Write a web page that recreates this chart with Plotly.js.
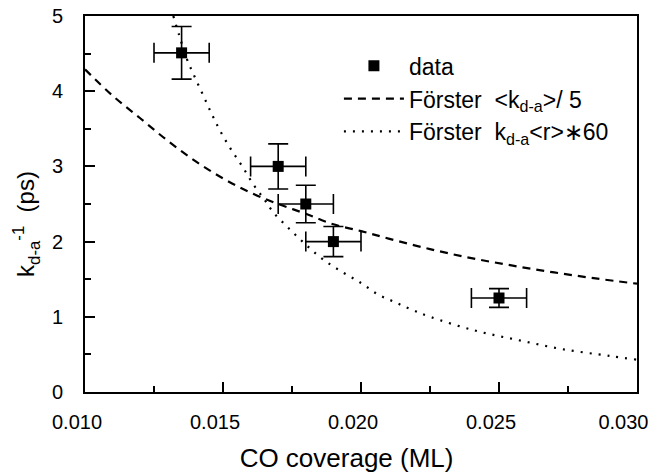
<!DOCTYPE html>
<html>
<head>
<meta charset="utf-8">
<script src="https://cdn.plot.ly/plotly-3.0.1.min.js"></script>
<style>html,body{margin:0;padding:0;background:#fff;}#chart{width:652px;height:474px;}</style>
</head>
<body>
<div id="chart"></div>
<script>
// Measured data points
const dataX = [0.0135, 0.0170, 0.0180, 0.0190, 0.0250];
const dataY = [4.51, 3.00, 2.50, 2.00, 1.25];
const dataXErr = [0.0010, 0.0010, 0.0010, 0.0010, 0.0010];
const dataYErr = [0.35, 0.30, 0.25, 0.20, 0.125];

// Förster <k_d-a>/5 (dashed)
const dashX = [0.0100, 0.0110, 0.0120, 0.0130, 0.0140, 0.0150, 0.0160, 0.0170, 0.0180, 0.0190, 0.0200, 0.0210, 0.0225, 0.0240, 0.0255, 0.0270, 0.0285, 0.0300];
const dashY = [4.29, 3.94, 3.64, 3.34, 3.07, 2.84, 2.65, 2.50, 2.37, 2.23, 2.14, 2.04, 1.90, 1.78, 1.68, 1.59, 1.51, 1.44];

// Förster k_d-a<r>*60 (dotted)
const dotX = [0.0132, 0.0134, 0.0137, 0.0140, 0.0143, 0.0146, 0.0149, 0.0153, 0.0157, 0.0161, 0.0165, 0.0168, 0.0174, 0.0180, 0.0186, 0.0193, 0.0200, 0.0206, 0.0212, 0.0218, 0.0225, 0.0241, 0.0257, 0.0273, 0.0290, 0.0300];
const dotY = [5.00, 4.76, 4.42, 4.17, 3.93, 3.69, 3.47, 3.22, 3.00, 2.76, 2.56, 2.40, 2.17, 1.96, 1.77, 1.60, 1.45, 1.30, 1.20, 1.10, 1.00, 0.82, 0.69, 0.57, 0.48, 0.43];

const xTickVals = [0.010, 0.015, 0.020, 0.025, 0.030];
const xTickText = ['0.010', '0.015', '0.020', '0.025', '0.030\u00a0\u00a0'];
const yTickVals = [0, 1, 2, 3, 4, 5];
const yTickText = ['0', '1', '2', '3', '4', '5'];

const FONT = 'Liberation Sans, Arial, Helvetica, sans-serif';
const NB = '\u00a0';
const ZW = '\u200b';
const GAP = '\u00a0\u00a0';

const traces = [
  {
    x: dataX, y: dataY, type: 'scatter', mode: 'markers', name: 'data',
    marker: {symbol: 'square', size: 11, color: '#000'},
    error_x: {type: 'data', array: dataXErr, visible: true, color: '#000', thickness: 1.6, width: 10},
    error_y: {type: 'data', array: dataYErr, visible: true, color: '#000', thickness: 1.6, width: 10}
  },
  {
    x: dashX, y: dashY, type: 'scatter', mode: 'lines', line: {shape: 'spline', color: '#000', width: 2.2, dash: '8px,6px'},
    name: 'Förster' + GAP + '&lt;k<sub>d-a</sub>&gt;/ 5'
  },
  {
    x: dotX, y: dotY, type: 'scatter', mode: 'lines', line: {shape: 'spline', color: '#000', width: 2.2, dash: '2px,7px'},
    name: 'Förster' + GAP + 'k<sub>d-a</sub>&lt;r&gt;∗60'
  }
];

const layout = {
  width: 652, height: 474,
  margin: {l: 85, r: 15, t: 16, b: 82},
  paper_bgcolor: '#fff', plot_bgcolor: '#fff',
  font: {family: FONT, color: '#000', size: 20},
  showlegend: true,
  legend: {x: 0.46, y: 0.925, xanchor: 'left', yanchor: 'top', bgcolor: 'rgba(0,0,0,0)', font: {size: 23, family: FONT}, itemwidth: 60, tracegroupgap: 0},
  xaxis: {
    range: [0.010, 0.030], tickvals: xTickVals, ticktext: xTickText,
    ticks: 'inside', ticklen: 10, tickwidth: 2, tickcolor: '#000',
    showline: true, linewidth: 2, linecolor: '#000', mirror: true,
    showgrid: false, zeroline: false,
    minor: {ticks: 'inside', ticklen: 6, tickwidth: 2, tickcolor: '#000', dtick: 0.0025, tick0: 0.010, showgrid: false},
    tickfont: {size: 20, family: FONT},
    ticklabelstandoff: 11, ticklabelshift: -8, ticklabeloverflow: 'allow',
    title: {text: 'CO coverage (ML)' + NB.repeat(4) + ZW, font: {size: 26, family: FONT}, standoff: 17}
  },
  yaxis: {
    range: [0, 5], tickvals: yTickVals, ticktext: yTickText,
    ticks: 'inside', ticklen: 10, tickwidth: 2, tickcolor: '#000',
    showline: true, linewidth: 2, linecolor: '#000', mirror: true,
    showgrid: false, zeroline: false,
    minor: {ticks: 'inside', ticklen: 6, tickwidth: 2, tickcolor: '#000', dtick: 0.5, tick0: 0, showgrid: false},
    tickfont: {size: 20, family: FONT},
    ticklabelstandoff: 16,
    title: {text: 'k<sub>d-a</sub><sup>-1</sup>  (ps)' + NB.repeat(6) + ZW, font: {size: 24, family: FONT}, standoff: 10}
  }
};

Plotly.newPlot('chart', traces, layout, {staticPlot: true, displayModeBar: false});
</script>
</body>
</html>
